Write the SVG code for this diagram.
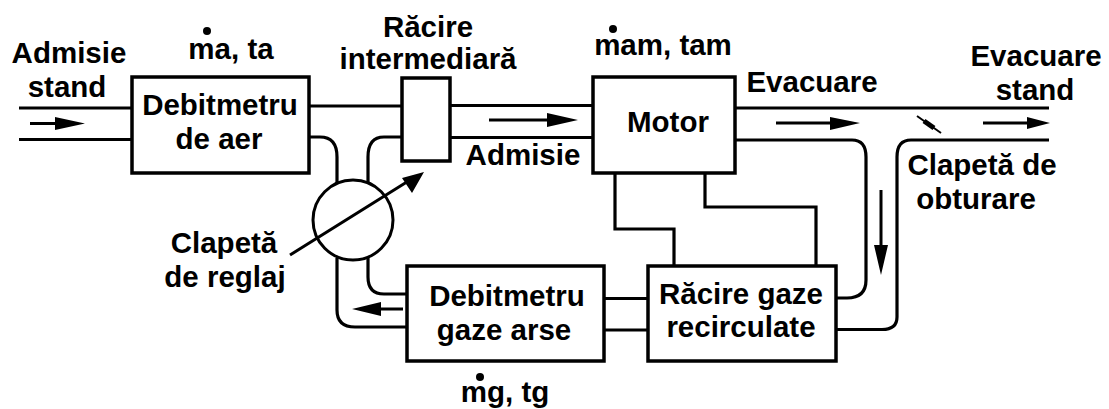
<svg xmlns="http://www.w3.org/2000/svg" width="1109" height="409" viewBox="0 0 1109 409">
<style>
text{font-family:"Liberation Sans",Arial,sans-serif;font-weight:700;font-size:29.500px;fill:#000;text-anchor:middle}
.box{fill:#fff;stroke:#000;stroke-width:3.5}
.ln{fill:none;stroke:#000;stroke-width:3.200}
.ar{fill:none;stroke:#000;stroke-width:3}
.hd{fill:#000;stroke:none}
</style>
<rect width="1109" height="409" fill="#fff"/>
<g id="connectors">
<path class="ln" d="M19 108H132M19 139.500H132"/>
<path class="ln" d="M309 106H402M450 105.500H594M450 137.500H594"/>
<path class="ln" d="M309 137H320Q337 137 337 157V183M402 137H384Q368 137 368 157V183"/>
<path class="ln" d="M337 258V310Q337 327 355 327H407M368 258V277Q368 294 384 294H407"/>
<path class="ln" d="M604 298.500H648M604 330H648"/>
<path class="ln" d="M615 173V229H674V266M705 173V207H816V266"/>
<path class="ln" d="M735 108H1049M735 140H852Q866 140 866 157V280Q866 298 847 298H836M836 329.500H882Q897 329.500 897 317V157Q897 140 911 140H1049"/>
<path class="ar" d="M30 123.500H60M489 120H550M776 123H835M983 123H1030M881 190V250M403 309H378M290 255L410 180"/>
<path class="hd" d="M85 123.500L55 117V130ZM578 120L547 113V127ZM860 123L830 117V130ZM1050 123L1027 117V129ZM881 275L874 245H888ZM352 309L381 302V316ZM424 172L402 178L412 193Z"/>
<path d="M917 116L941 133" fill="none" stroke="#000" stroke-width="2"/>
<path d="M924 121L934 128" fill="none" stroke="#000" stroke-width="5"/>
</g>
<g id="debitmetru-aer"><rect class="box" x="132" y="77" width="177" height="96"/><text x="220" y="115">Debitmetru</text><text x="219" y="149">de aer</text></g>
<g id="racire-intermediara"><rect class="box" x="402" y="78" width="48" height="83"/><text x="428" y="37">Răcire</text><text x="428" y="69">intermediară</text></g>
<g id="motor"><rect class="box" x="593" y="77" width="142" height="96"/><text x="668" y="132">Motor</text></g>
<g id="racire-gaze"><rect class="box" x="648" y="266" width="188" height="95"/><text x="741" y="304">Răcire gaze</text><text x="741" y="337">recirculate</text></g>
<g id="debitmetru-gaze"><rect class="box" x="407" y="266" width="197" height="95"/><text x="507" y="306">Debitmetru</text><text x="504" y="340">gaze arse</text></g>
<g id="clapeta-reglaj"><circle cx="353" cy="220" r="40" fill="none" stroke="#000" stroke-width="3"/><text x="224" y="253">Clapetă</text><text x="225" y="287">de reglaj</text></g>
<g id="labels">
<text x="69" y="63">Admisie</text><text x="67" y="97">stand</text>
<circle cx="207" cy="31" r="4"/><text x="231" y="59">ma, ta</text>
<circle cx="613" cy="29" r="4"/><text x="663" y="55">mam, tam</text>
<text x="523" y="165">Admisie</text>
<text x="812" y="92">Evacuare</text>
<text x="1036" y="66">Evacuare</text><text x="1035" y="100">stand</text>
<text x="982" y="175">Clapetă de</text><text x="976" y="209">obturare</text>
<circle cx="480" cy="377" r="4"/><text x="505" y="402">mg, tg</text>
</g>
</svg>
